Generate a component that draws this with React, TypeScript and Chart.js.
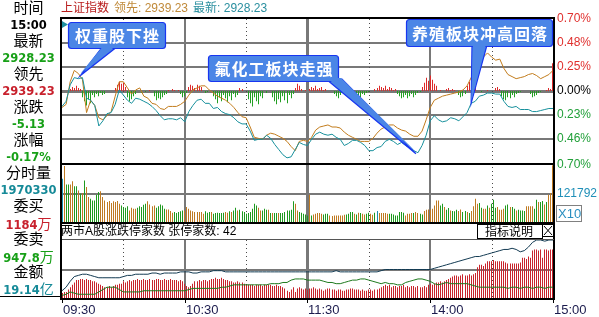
import { useEffect, useRef } from 'react';
import { Chart, registerables } from 'chart.js';

Chart.register(...registerables);

// ---------------- data ----------------
const timeLabels = ['09:30', '10:30', '11:30', '14:00', '15:00'];
const timeTickMinutes = [0, 60, 120, 180, 240];
const gridMinutes = [30, 60, 90, 120, 150, 180, 210];
const pctTickValues = [0.7, 0.467, 0.233, 0, -0.233, -0.467, -0.7];
const pctTickLabels = ['0.70%', '0.48%', '0.25%', '0.00%', '0.23%', '0.46%', '0.70%'];
const volumeTick = 121792;
const volumeMax = 243584;
const breadthMax = 50;

// 上证指数 最新 (percent vs previous close), every 2 minutes
const latestPct = [
  -0.15, -0.10, 0.06, 0.13, 0.12, 0.13, -0.07, -0.09, -0.14, -0.34,
  -0.29, -0.22, -0.21, -0.13, 0.01, -0.04, -0.09, -0.12, -0.07, -0.08,
  -0.10, -0.12, -0.15, -0.19, -0.24, -0.28, -0.27, -0.27, -0.28, -0.26,
  -0.30, -0.20, -0.14, -0.09, -0.08, -0.12, -0.12, -0.17, -0.16, -0.20,
  -0.22, -0.23, -0.26, -0.30, -0.32, -0.32, -0.39, -0.48, -0.47, -0.47,
  -0.43, -0.46, -0.52, -0.57, -0.62, -0.65, -0.64, -0.57, -0.50, -0.52,
  -0.53, -0.47, -0.42, -0.40, -0.42, -0.43, -0.42, -0.45, -0.47, -0.53,
  -0.51, -0.48, -0.48, -0.50, -0.53, -0.58, -0.58, -0.55, -0.54, -0.49,
  -0.47, -0.49, -0.52, -0.50, -0.53, -0.55, -0.58, -0.60, -0.53, -0.43,
  -0.29, -0.24, -0.28, -0.30, -0.29, -0.26, -0.27, -0.29, -0.25, -0.21,
  -0.12, -0.10, -0.05, -0.04, -0.02, -0.02, -0.03, -0.03, -0.10, -0.15,
  -0.16, -0.15, -0.18, -0.18, -0.18, -0.20, -0.20, -0.19, -0.18, -0.17,
  -0.17,
];

// 领先指标 (percent), every 2 minutes
const leadPct = [
  -0.16, -0.13, 0.09, 0.20, 0.17, 0.11, -0.21, -0.09, -0.14, -0.26,
  -0.28, -0.24, -0.20, -0.05, 0.09, 0.09, 0.03, -0.03, 0.01, 0.03,
  -0.05, -0.07, -0.12, -0.13, -0.17, -0.18, -0.15, -0.15, -0.15, -0.13,
  -0.10, -0.04, 0.01, 0.03, 0.05, 0.05, 0.01, -0.02, -0.05, -0.07,
  -0.09, -0.12, -0.16, -0.21, -0.25, -0.26, -0.35, -0.45, -0.46, -0.47,
  -0.43, -0.41, -0.42, -0.44, -0.46, -0.49, -0.54, -0.58, -0.49, -0.48,
  -0.49, -0.45, -0.38, -0.35, -0.34, -0.33, -0.35, -0.35, -0.36, -0.40,
  -0.43, -0.45, -0.47, -0.49, -0.49, -0.49, -0.46, -0.41, -0.37, -0.35,
  -0.33, -0.33, -0.36, -0.38, -0.39, -0.42, -0.44, -0.44, -0.39, -0.28,
  -0.16, -0.09, -0.07, -0.05, -0.04, -0.03, -0.02, -0.01, 0.01, 0.05,
  0.13, 0.20, 0.26, 0.33, 0.37, 0.33, 0.30, 0.31, 0.22, 0.16,
  0.14, 0.12, 0.13, 0.14, 0.16, 0.17, 0.15, 0.12, 0.14, 0.16,
  0.20,
];

// red/green strength bars around the zero line, per minute (units of 0.01%)
const spreadBars = [
  0, 0, 0, 0, 2, 4, 3, 5, 3, 2,
  -6, -10, -14, -8, -12, -4, -6, -3, -5, -2,
  -4, -3, 0, 0, 0, 0, 3, 6, 9, 7,
  8, 4, -6, -10, -8, -5, -3, 0, 0, -2,
  0, -1, 0, 1, 0, -5, -9, -7, -8, -6,
  -4, -3, 1, 0, 2, 1, 0, 1, -3, -6,
  -5, -2, 4, 6, 5, 3, 6, 5, 4, 0,
  -2, -1, 0, 0, -5, -8, -12, -6, -10, -4,
  -7, -11, -5, -9, -3, -6, -4, 3, 2, 0,
  0, -8, -12, -15, -6, -10, -13, -5, -7, 0,
  -2, 0, 0, -6, -10, -13, -8, -11, -5, -9,
  -12, -4, -7, -3, 3, 7, 5, 2, 0, 1,
  0, 2, 4, 3, 5, 2, 3, 4, 1, 2,
  0, 0, 0, -3, -5, -7, -4, 3, 4, 3,
  -5, -7, -6, -4, -2, -5, -7, -3, -4, -2,
  -1, 0, 0, 2, 3, 5, 4, 3, 5, 2,
  4, 3, 1, 2, -3, -5, -7, -6, -4, -7,
  -5, -3, -6, -4, -2, -1, 4, 8, 13, 10,
  15, 11, 7, 5, 0, 1, 0, 0, 2, 3,
  1, 2, 1, 0, -4, -6, -5, -3, 5, 9,
  7, 8, 4, 0, 0, -1, 0, 0, 1, 0,
  0, 0, 3, 4, 2, -5, -8, -9, -6, -7,
  -4, -6, -3, -2, -1, 0, 0, 0, 0, -3,
  -6, -5, -4, -2, -1, 0, 0, 1, 3, 2,
  27,
];

// 分时量 per minute, thousands; sign = minute up (+) / down (-)
const volumeK = [
  186, 239, -162, -162, 162, 175, -154, -154, 137, -123,
  126, -179, 151, 109, -102, -95, -95, -119, -130, 133,
  109, 95, 88, 92, 84, 91, 88, 92, 81, -74,
  -67, -64, -70, 53, 64, 60, 60, -64, -70, -67,
  -77, -81, 91, 78, 70, 74, -64, -70, -78, -74,
  -60, 57, 57, 50, 43, -46, -42, -46, -49, -53,
  53, 67, 60, 53, 49, 46, 46, 46, 46, 39,
  -49, -43, -46, 46, -39, -42, -43, -42, -42, -43,
  46, 43, -49, 46, -53, -64, 53, -56, -49, -46,
  -39, -42, -46, -60, -81, -74, 64, 53, -53, -60,
  -56, 56, -42, 42, -42, -42, 42, -42, -42, -46,
  -53, -53, -56, -91, 81, 53, -46, -43, -39, -36,
  -32, 119, -32, 36, 39, 42, 42, 39, -36, -39,
  -39, 32, 29, 32, 32, 32, 32, 32, 35, -36,
  -39, -46, -46, 39, -36, 43, -42, 39, 36, -39,
  -43, 39, 35, -43, 50, 42, 42, 42, 42, 39,
  -39, -39, -36, -32, -32, -46, -46, -43, 32, 39,
  39, 42, -42, 46, 42, -39, -36, 50, 56, 57,
  57, 60, 74, 95, 95, -74, -81, 67, -56, -63,
  53, -50, -49, -56, 50, 57, -46, -50, 46, -42,
  50, 70, 102, 81, -84, -64, 60, 60, -74, 64,
  -81, -98, -64, 67, 56, 56, 60, -74, -78, 67,
  -67, -60, 53, -56, -53, -53, -50, 70, 70, 70,
  70, -60, -98, 88, -88, -92, 78, -88, 119, 126,
  243,
];
const flatMinutes = [0, 154];

// 两市A股涨跌停家数: red bars per minute, two lines every 2 minutes
const limitUpBars = [
  5, 6, 6, 8, 10, 12, 14, 16, 16, 17,
  17, 16, 17, 16, 16, 15, 15, 14, 13, 12,
  11, 10, 10, 11, 10, 11, 12, 12, 13, 13,
  15, 14, 15, 16, 15, 16, 16, 17, 16, 16,
  17, 16, 16, 17, 16, 16, 17, 17, 16, 16,
  17, 16, 16, 17, 16, 16, 16, 15, 16, 15,
  13, 11, 10, 11, 13, 15, 15, 16, 15, 16,
  16, 15, 16, 17, 17, 18, 17, 17, 18, 17,
  16, 16, 15, 15, 14, 14, 15, 14, 14, 13,
  12, 12, 12, 12, 11, 12, 12, 12, 11, 12,
  12, 12, 12, 11, 11, 12, 11, 11, 10, 9,
  7, 6, 8, 10, 6, 9, 10, 9, 8, 9,
  8, 9, 9, 10, 9, 8, 9, 8, 7, 8,
  9, 9, 8, 8, 7, 8, 8, 7, 7, 8,
  8, 9, 9, 8, 8, 8, 7, 8, 7, 7,
  8, 8, 7, 8, 8, 9, 10, 11, 12, 11,
  12, 10, 11, 11, 10, 11, 11, 12, 10, 11,
  10, 11, 11, 10, 11, 10, 10, 11, 10, 12,
  13, 12, 13, 14, 14, 15, 14, 15, 16, 17,
  18, 19, 20, 20, 19, 20, 21, 20, 20, 21,
  20, 21, 22, 27, 29, 29, 28, 30, 32, 32,
  32, 33, 32, 32, 32, 32, 32, 31, 30, 30,
  30, 30, 30, 30, 31, 35, 35, 34, 36, 35,
  41, 42, 42, 41, 42, 35, 42, 42, 41, 42,
  42,
];
const upLine = [
  7, 10, 15, 19, 20, 21, 21, 20, 19, 18,
  18, 18, 18, 18, 18, 19, 20, 20, 21, 21,
  21, 21, 22, 22, 21, 22, 22, 22, 22, 23,
  23, 23, 22, 22, 23, 23, 23, 24, 24, 24,
  23, 23, 23, 23, 23, 23, 23, 23, 23, 23,
  23, 23, 23, 23, 23, 23, 23, 23, 23, 23,
  23, 23, 23, 23, 23, 23, 23, 24, 23, 23,
  23, 23, 23, 23, 23, 23, 23, 23, 24, 25,
  25, 25, 25, 25, 25, 25, 25, 25, 25, 25,
  25, 26, 27, 28, 29, 30, 31, 32, 33, 34,
  35, 36, 36, 37, 38, 39, 40, 41, 42, 42,
  43, 42, 40, 41, 44, 48, 50, 50, 49, 50,
  50,
];
const downLine = [
  3, 4, 6, 5, 4, 4, 4, 4, 4, 6,
  8, 10, 10, 10, 8, 6, 6, 6, 6, 6,
  7, 7, 7, 7, 7, 7, 7, 7, 7, 7,
  7, 8, 9, 9, 9, 9, 9, 9, 9, 10,
  10, 11, 12, 12, 12, 12, 12, 12, 12, 12,
  12, 13, 13, 13, 14, 14, 16, 17, 17, 17,
  16, 16, 16, 16, 15, 14, 14, 13, 13, 14,
  15, 16, 16, 17, 17, 16, 15, 14, 13, 14,
  13, 13, 12, 12, 14, 15, 16, 17, 17, 16,
  15, 13, 12, 13, 14, 13, 13, 13, 13, 13,
  12, 11, 10, 10, 10, 10, 10, 10, 10, 9,
  10, 10, 9, 10, 10, 9, 10, 10, 9, 10,
  10,
];

// left quote panel
const quoteLabels = ['时间', '最新', '领先', '涨跌', '涨幅', '分时量', '委买', '委卖', '金额'];
const quoteValues = ['15:00', '2928.23', '2939.23', '-5.13', '-0.17%', '1970330', '1184', '947.8', '19.14'];
const quoteUnits = ['', '', '', '', '', '', '万', '万', '亿'];
const quoteTones = ['plain', 'down', 'up', 'down', 'down', 'amount', 'up', 'down', 'amount'];

// annotations: text + anchor (minute, pct)
const calloutTexts = ['权重股下挫', '氟化工板块走强', '养殖板块冲高回落'];
const calloutMinutes = [9, 173, 200];
const calloutPct = [0.15, -0.61, -0.12];

// ---------------- styling / layout ----------------
const CJK = "'Noto Sans CJK SC', sans-serif";
const LATIN = "'Liberation Sans', 'Noto Sans CJK SC', sans-serif";
const AREA = { left: 62, right: 554, top: 19, bottom: 299 };
const X_MAX = 240.5;

function rangeFor(vTop: number, vBottom: number, pTop: number, pBottom: number) {
  const per = (vTop - vBottom) / (pBottom - pTop);
  return { min: vBottom - (AREA.bottom - pBottom) * per, max: vTop + (pTop - AREA.top) * per };
}

const toneColor: Record<string, string> = {
  plain: '#000000',
  down: '#17a017',
  up: '#c8202c',
  amount: '#168a98',
};

function roundRectPath(ctx: CanvasRenderingContext2D, x: number, y: number, w: number, h: number, r: number) {
  ctx.beginPath();
  ctx.moveTo(x + r, y);
  ctx.lineTo(x + w - r, y);
  ctx.quadraticCurveTo(x + w, y, x + w, y + r);
  ctx.lineTo(x + w, y + h - r);
  ctx.quadraticCurveTo(x + w, y + h, x + w - r, y + h);
  ctx.lineTo(x + r, y + h);
  ctx.quadraticCurveTo(x, y + h, x, y + h - r);
  ctx.lineTo(x, y + r);
  ctx.quadraticCurveTo(x, y, x + r, y);
  ctx.closePath();
}

const boxes = [
  { x: 68, y: 22, w: 97, h: 26, base: [103, 46, 118, 46] },
  { x: 208, y: 55, w: 130, h: 26, base: [326, 79, 342, 79] },
  { x: 406, y: 19, w: 146, h: 27, base: [472, 45, 487, 45] },
];

// snap 1px bars onto whole pixels so they render crisp like the terminal chart
const snapBarsPlugin = {
  id: 'snapBars',
  afterDatasetsUpdate(chart: any) {
    chart.data.datasets.forEach((ds: any, di: number) => {
      if (ds.type !== 'bar') return;
      chart.getDatasetMeta(di).data.forEach((el: any) => {
        el.x = Math.floor(el.x) + 0.5;
      });
    });
  },
};

const decorPlugin = {
  id: 'decor',
  beforeDatasetsDraw(chart: any) {
    const { ctx, chartArea: a, scales } = chart;
    const xs = scales.x, ym = scales.yMain, yv = scales.yVol, yi = scales.yInd;
    ctx.save();
    const GRID = '#787878';
    const hl = (y: number, w: number) => {
      ctx.fillStyle = GRID;
      ctx.fillRect(a.left, Math.round(y - w / 2), a.right - a.left, w);
    };
    [1, 2, 4, 5].forEach((i) => hl(ym.getPixelForValue(pctTickValues[i]), 2));
    hl(ym.getPixelForValue(0), 3);
    hl(yv.getPixelForValue(volumeTick), 2);
    hl(yi.getPixelForValue(breadthMax / 2), 2);
    const segs = [
      [a.top, yv.getPixelForValue(0)],
      [yi.getPixelForValue(breadthMax), a.bottom],
    ];
    gridMinutes.forEach((m) => {
      const px = xs.getPixelForValue(m);
      if (m % 60 === 30) {
        ctx.strokeStyle = '#4a4a4a';
        ctx.lineWidth = 1;
        ctx.setLineDash([1, 3]);
        const x = Math.round(px) + 0.5;
        segs.forEach(([t, b]) => {
          ctx.beginPath();
          ctx.moveTo(x, t);
          ctx.lineTo(x, b);
          ctx.stroke();
        });
        ctx.setLineDash([]);
      } else {
        const w = m === 120 ? 3 : 2;
        ctx.fillStyle = GRID;
        segs.forEach(([t, b]) => ctx.fillRect(Math.round(px - w / 2), t, w, b - t));
      }
    });
    ctx.restore();
  },
  afterDatasetsDraw(chart: any) {
    const { ctx, chartArea: a, scales } = chart;
    const xs = scales.x, ym = scales.yMain, yv = scales.yVol, yi = scales.yInd;
    ctx.save();
    const L = a.left - 2;
    const W = a.right - L + 1;
    ctx.fillStyle = '#000';
    ctx.fillRect(L, 17, W, 2);
    ctx.fillRect(L, 17, 2, a.bottom - 16);
    ctx.fillRect(a.right - 1, 17, 2, a.bottom - 16);
    ctx.fillRect(L, Math.round(ym.getPixelForValue(-0.7)), W, 2);
    ctx.fillRect(L, Math.round(yv.getPixelForValue(0)) - 1, W, 2);
    ctx.fillRect(L, a.bottom - 1, W, 2);
    ctx.fillRect(0, 296, L, 1);
    ctx.fillStyle = '#555';
    ctx.fillRect(a.left, Math.round(yi.getPixelForValue(breadthMax)) - 1, a.right - a.left, 1);

    // left-top teal marker
    ctx.fillStyle = '#1d8fa0';
    ctx.beginPath();
    ctx.moveTo(62, 21);
    ctx.lineTo(68, 24.5);
    ctx.lineTo(62, 28);
    ctx.closePath();
    ctx.fill();

    // right labels
    ctx.textBaseline = 'middle';
    ctx.textAlign = 'left';
    ctx.font = `12px ${LATIN}`;
    pctTickValues.forEach((v, i) => {
      ctx.fillStyle = i < 3 ? '#e0302e' : i === 3 ? '#000000' : '#22a03a';
      const y = ym.getPixelForValue(v) + (i === 6 ? 2 : 0);
      ctx.fillText(pctTickLabels[i], a.right + 3, y);
    });
    ctx.fillStyle = '#1f8fb8';
    ctx.fillText(String(volumeTick), a.right + 3, yv.getPixelForValue(volumeTick));
    ctx.strokeStyle = '#808080';
    ctx.lineWidth = 1;
    ctx.strokeRect(a.right + 2.5, 205.5, 25, 16);
    ctx.fillStyle = '#2a8fc0';
    ctx.font = `13px ${LATIN}`;
    ctx.fillText('X10', a.right + 4, 214);

    // time labels
    ctx.font = `13px ${LATIN}`;
    timeTickMinutes.forEach((m, i) => {
      const px = Math.round(xs.getPixelForValue(m));
      ctx.fillStyle = '#000';
      ctx.fillRect(px, a.bottom, 1, 4);
      ctx.fillStyle = '#1b1b4d';
      ctx.fillText(timeLabels[i], px + 1, 310);
    });

    // title
    ctx.font = `12px ${LATIN}`;
    let tx = 61;
    const title = [
      ['上证指数', '#b81c1c'],
      ['领先: 2939.23', '#c08a3a'],
      ['最新: 2928.23', '#2a8f9f'],
    ];
    title.forEach(([t, c]) => {
      ctx.fillStyle = c;
      ctx.fillText(t, tx, 9);
      tx += ctx.measureText(t).width + 5;
    });

    // indicator header
    ctx.fillStyle = '#000';
    ctx.font = `12px ${LATIN}`;
    ctx.fillText('两市A股涨跌停家数 张停家数: 42', 61, 232);
    ctx.fillStyle = '#fff';
    ctx.fillRect(477, 224, 66, 14);
    ctx.strokeStyle = '#000';
    ctx.strokeRect(477.5, 224.5, 65, 14);
    ctx.strokeRect(542.5, 224.5, 11, 12);
    ctx.beginPath();
    ctx.moveTo(544, 226);
    ctx.lineTo(552, 235);
    ctx.moveTo(552, 226);
    ctx.lineTo(544, 235);
    ctx.stroke();
    ctx.fillStyle = '#000';
    ctx.textAlign = 'center';
    ctx.font = `12px ${CJK}`;
    ctx.fillText('指标说明', 509, 231.5);

    // callouts
    calloutTexts.forEach((text, i) => {
      const b = boxes[i];
      const tipX = xs.getPixelForValue(calloutMinutes[i]);
      const tipY = ym.getPixelForValue(calloutPct[i]);
      ctx.fillStyle = '#4b86e6';
      ctx.strokeStyle = '#1836f0';
      ctx.lineWidth = 1.2;
      ctx.beginPath();
      ctx.moveTo(b.base[0], b.base[1]);
      ctx.lineTo(tipX, tipY);
      ctx.lineTo(b.base[2], b.base[3]);
      ctx.closePath();
      ctx.fill();
      ctx.stroke();
      roundRectPath(ctx, b.x + 0.5, b.y + 0.5, b.w, b.h, 3);
      ctx.fill();
      ctx.stroke();
      ctx.beginPath();
      ctx.moveTo(b.base[0] + 1, b.base[1] - 1);
      ctx.lineTo(tipX, tipY - 2);
      ctx.lineTo(b.base[2] - 1, b.base[3] - 1);
      ctx.closePath();
      ctx.fill();
      ctx.fillStyle = '#ffffff';
      ctx.font = `bold 16px ${CJK}`;
      (ctx as any).letterSpacing = '1px';
      ctx.textAlign = 'center';
      ctx.fillText(text, b.x + b.w / 2 + 1, b.y + b.h / 2 + 1);
      (ctx as any).letterSpacing = '0px';
    });
    ctx.restore();
  },
};

export default function App() {
  const ref = useRef<HTMLCanvasElement>(null);

  useEffect(() => {
    const canvas = ref.current;
    if (!canvas) return;
    const mainRange = rangeFor(0.7, -0.7, 19, 163);
    const volRange = rangeFor(volumeMax, 0, 165, 223);
    const indRange = rangeFor(breadthMax, 0, 240, 299);
    const every2 = (arr: number[]) => arr.map((v, k) => ({ x: k * 2, y: v }));
    const barCommon = { barThickness: 1, grouped: false, inflateAmount: 0, borderWidth: 0 };
    const chart = new Chart(canvas, {
      type: 'line',
      data: {
        datasets: [
          {
            type: 'line', label: '最新', data: every2(latestPct), yAxisID: 'yMain',
            borderColor: '#17909c', borderWidth: 1, pointRadius: 0, order: 1,
          },
          {
            type: 'line', label: '领先', data: every2(leadPct), yAxisID: 'yMain',
            borderColor: '#c27c1c', borderWidth: 1, pointRadius: 0, order: 2,
          },
          {
            type: 'bar', label: '强弱', data: spreadBars.map((v, i) => ({ x: i, y: v / 100 })), yAxisID: 'yMain',
            backgroundColor: spreadBars.map((v) => (v > 0 ? '#dd2a2a' : '#24a024')),
            order: 3, ...barCommon,
          },
          {
            type: 'bar', label: '分时量', data: volumeK.map((v, i) => ({ x: i, y: Math.abs(v) * 1000 })), yAxisID: 'yVol',
            backgroundColor: volumeK.map((v, i) => (flatMinutes.includes(i) ? '#1a8fb0' : v > 0 ? '#bf7a22' : '#1f9a1f')),
            order: 4, ...barCommon,
          },
          {
            type: 'line', label: '上涨', data: every2(upLine), yAxisID: 'yInd',
            borderColor: '#123a52', borderWidth: 1, pointRadius: 0, order: 5,
          },
          {
            type: 'line', label: '下跌', data: every2(downLine), yAxisID: 'yInd',
            borderColor: '#1e7a1e', borderWidth: 1, pointRadius: 0, order: 6,
          },
          {
            type: 'bar', label: '涨停', data: limitUpBars.map((v, i) => ({ x: i, y: v })), yAxisID: 'yInd',
            backgroundColor: '#c8242c', order: 7, ...barCommon,
          },
        ] as any,
      },
      options: {
        responsive: false,
        maintainAspectRatio: false,
        devicePixelRatio: 1,
        animation: false,
        events: [],
        layout: { padding: { left: AREA.left, right: 599 - AREA.right, top: AREA.top, bottom: 317 - AREA.bottom } },
        plugins: { legend: { display: false }, tooltip: { enabled: false } },
        scales: {
          x: { type: 'linear', min: 0, max: X_MAX, display: false, offset: false },
          yMain: { type: 'linear', min: mainRange.min, max: mainRange.max, display: false },
          yVol: { type: 'linear', min: volRange.min, max: volRange.max, display: false },
          yInd: { type: 'linear', min: indRange.min, max: indRange.max, display: false },
        } as any,
      },
      plugins: [snapBarsPlugin, decorPlugin],
    });
    return () => chart.destroy();
  }, []);

  const rowY = (r: number, isValue: boolean) => 7 + r * 16.47 + (isValue ? 1.5 : 0);

  return (
    <div style={{ position: 'absolute', left: 0, top: 0, width: 599, height: 317, background: '#fff', overflow: 'hidden' }}>
      <canvas ref={ref} width={599} height={317} style={{ position: 'absolute', left: 0, top: 0, width: 599, height: 317 }} />
      {quoteLabels.map((lab, i) => (
        <div
          key={'l' + i}
          style={{
            position: 'absolute', left: 0, width: 57, top: rowY(2 * i, false) - 9, height: 18, lineHeight: '18px',
            textAlign: 'center', fontFamily: CJK, fontSize: 15, color: '#000', whiteSpace: 'nowrap',
          }}
        >
          {lab}
        </div>
      ))}
      {quoteValues.map((val, i) => (
        <div
          key={'v' + i}
          style={{
            position: 'absolute', left: 0, width: 57, top: rowY(2 * i + 1, true) - 9, height: 18, lineHeight: '18px',
            textAlign: 'center', fontFamily: "'DejaVu Sans', sans-serif", fontWeight: 'bold', fontSize: 11.5,
            color: toneColor[quoteTones[i]], whiteSpace: 'nowrap',
          }}
        >
          {val}
          {quoteUnits[i] ? (
            <span style={{ fontFamily: CJK, fontWeight: 'normal', fontSize: 14 }}>{quoteUnits[i]}</span>
          ) : null}
        </div>
      ))}
    </div>
  );
}
